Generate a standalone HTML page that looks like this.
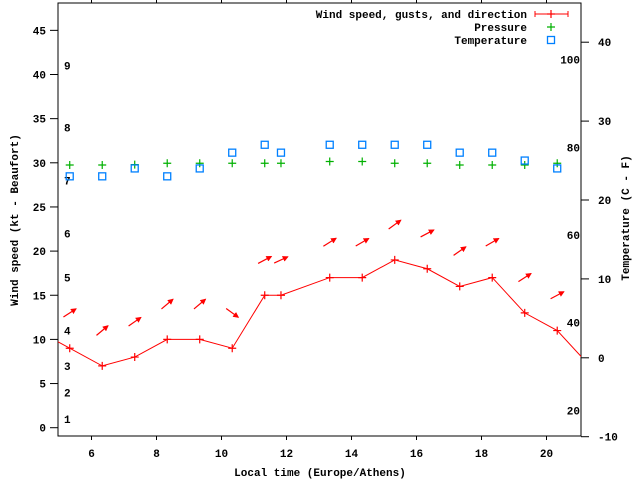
<!DOCTYPE html>
<html><head><meta charset="utf-8"><style>
body{margin:0;background:#fff}
svg{display:block}
text{font-family:"Liberation Mono",monospace;font-weight:bold;font-size:11px;fill:#000}
</style></head><body>
<svg id="chart" width="640" height="480" viewBox="0 0 640 480" xmlns="http://www.w3.org/2000/svg">
<defs><marker id="ah" markerWidth="6" markerHeight="6" refX="5" refY="3" orient="auto" markerUnits="userSpaceOnUse"><path d="M0,0 L6,3 L0,6 Z" fill="#f00"/></marker>
<clipPath id="pc"><rect x="58" y="3" width="523" height="433"/></clipPath></defs>
<g id="g"></g>
</svg>
<script>
const times=[5.33,6.33,7.33,8.33,9.33,10.33,11.33,11.83,13.33,14.33,15.33,16.33,17.33,18.33,19.33,20.33];
const windKt=[9,7,8,10,10,9,15,15,17,17,19,18,16,17,13,11];
const windPrevTime=4.33, windPrev=11, windNextTime=21.33, windNext=7;
const gustKt=[13,11,12,14,14,13,19,19,21,21,23,22,20,21,17,15];
const windAngle=[33,40,35,40,40,-36,28,25,32,30,36,28,35,30,33,28];
const pressure=[29.75,29.75,29.8,29.95,29.95,29.95,29.95,29.95,30.15,30.15,29.95,29.95,29.75,29.75,29.75,29.95];
const tempC=[23,23,24,23,24,26,27,26,27,27,27,27,26,26,25,24];
const xTicks=[6,8,10,12,14,16,18,20];
const yTicks=[0,5,10,15,20,25,30,35,40,45];
const y2Ticks=[-10,0,10,20,30,40];
const fTicks=[20,40,60,80,100];
const beaufortKt=[1,4,7,11,17,22,28,34,41];
const beaufortLbl=["1","2","3","4","5","6","7","8","9"];

const L=58,R=581,T=3,B=436;
const X=t=>59+(t-5)*32.5;
const Y=v=>427.7-v*8.83;
const Y2=c=>357.8-c*7.89;
const NS="http://www.w3.org/2000/svg";
const g=document.getElementById('g');
function el(tag,at,parent){const e=document.createElementNS(NS,tag);for(const k in at)e.setAttribute(k,at[k]);(parent||g).appendChild(e);return e;}
function txt(x,y,s,anchor){const e=el('text',{x:x,y:y,'text-anchor':anchor||'start'});e.textContent=s;return e;}

let e=el('rect',{x:L,y:T,width:R-L,height:B-T,fill:'none',stroke:'#000','stroke-width':1});

xTicks.forEach(t=>{const x=X(t);
 e=el('line',{x1:x,y1:B,x2:x,y2:B+4,stroke:'#000'});
 e=el('line',{x1:x,y1:T,x2:x,y2:T-4,stroke:'#000'});
 e=txt(x,457,String(t),'middle');});
yTicks.forEach(v=>{const y=Y(v);
 e=el('line',{x1:L,y1:y,x2:L-8,y2:y,stroke:'#000'});
 e=txt(46,y+4,String(v),'end');});
y2Ticks.forEach(v=>{const y=Y2(v);
 e=el('line',{x1:R,y1:y,x2:R+8,y2:y,stroke:'#000'});
 e=txt(598,y+4,String(v),'start');});
fTicks.forEach(f=>{const y=Y2((f-32)*5/9);
 e=txt(580,y+4,String(f),'end');});
beaufortKt.forEach((k,i)=>{
 e=txt(64,Y(k)+4,beaufortLbl[i],'start');});

e=txt(320,476,'Local time (Europe/Athens)','middle');
e=txt(0,0,'Wind speed (kt - Beaufort)','middle');e.setAttribute('transform','translate(18,220) rotate(-90)');

e=txt(0,0,'Temperature (C - F)','middle');e.setAttribute('transform','translate(629,218) rotate(-90)');


const pg=el('g',{'clip-path':'url(#pc)'});

const pts=[[windPrevTime,windPrev]].concat(times.map((t,i)=>[t,windKt[i]])).concat([[windNextTime,windNext]]);
e=el('polyline',{points:pts.map(p=>X(p[0])+','+Y(p[1])).join(' '),fill:'none',stroke:'#f00','stroke-width':1},pg);

function plus(x,y,c,name,parent){const p=el('path',{d:`M${x-4},${y}H${x+4}M${x},${y-4}V${y+4}`,stroke:c,'stroke-width':1.2,fill:'none'},parent);
 }
times.forEach((t,i)=>plus(X(t),Y(windKt[i]),'#f00','wind-point',pg));
times.forEach((t,i)=>{const cx=X(t),cy=Y(gustKt[i]),a=windAngle[i]*Math.PI/180,h=7.5;
 const a1=el('line',{x1:cx-h*Math.cos(a),y1:cy+h*Math.sin(a),x2:cx+h*Math.cos(a),y2:cy-h*Math.sin(a),stroke:'#f00','stroke-width':1.2,'marker-end':'url(#ah)'},pg);
 
 });
times.forEach((t,i)=>plus(X(t),Y(pressure[i]),'#00b000','pressure-point',pg));
times.forEach((t,i)=>{const r=el('rect',{x:X(t)-3.5,y:Y2(tempC[i])-3.5,width:7,height:7,fill:'none',stroke:'#0080ff','stroke-width':1.3},pg);
 
 });

const lg=el('g',{});
e=txt(527,18,'Wind speed, gusts, and direction','end');lg.appendChild(e);
e=el('path',{d:'M535,14H568M535,11V17M568,11V17',stroke:'#f00','stroke-width':1,fill:'none'},lg);
plus(551,14,'#f00','legend-wind-marker',lg);
e=txt(527,31,'Pressure','end');lg.appendChild(e);
plus(551,27,'#00b000','legend-pressure-marker',lg);
e=txt(527,44,'Temperature','end');lg.appendChild(e);
e=el('rect',{x:547.5,y:36.5,width:7,height:7,fill:'none',stroke:'#0080ff','stroke-width':1.3},lg);
</script>
</body></html>
